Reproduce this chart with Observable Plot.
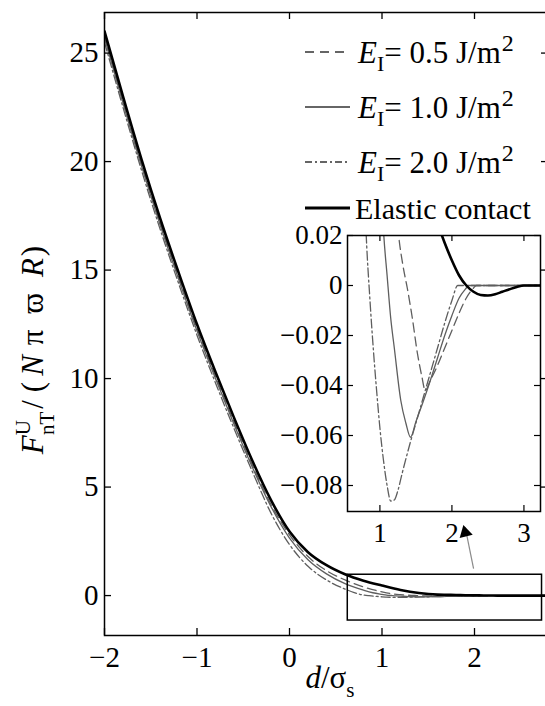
<!DOCTYPE html>
<html>
<head>
<meta charset="utf-8">
<script src="https://cdn.jsdelivr.net/npm/d3@7"></script>
<script src="https://cdn.jsdelivr.net/npm/@observablehq/plot@0.6"></script>
<style>
  html, body { margin: 0; padding: 0; background: #fff; }
  #wrap { position: relative; width: 545px; height: 706px; overflow: hidden; background: #fff; }
  #wrap svg { position: absolute; font-family: "Liberation Serif", "DejaVu Serif", serif; }
  #wrap svg text { font-family: "Liberation Serif", "DejaVu Serif", serif; }
</style>
</head>
<body>
<div id="wrap"></div>
<script>
// ---------------- data ----------------
const EL_X = [-2.0,-1.8,-1.6,-1.4,-1.2,-1.0,-0.8,-0.6,-0.4,-0.2,0.0,0.2,0.4,0.6,0.8,1.0,1.2,1.4,1.6,1.7,1.8,1.9,2.0,2.1,2.2,2.3,2.4,2.5,2.6,2.7,2.8,2.9,3.0,3.1,3.24];
const EL_Y = [26.0,23.0,20.1,17.4,14.9,12.5,10.3,8.2,6.2,4.4,2.95,2.0,1.4,0.98,0.68,0.46,0.26,0.12,0.045,0.034,0.025,0.017,0.010,0.004,0.0,-0.0025,-0.0038,-0.004,-0.0035,-0.0025,-0.0015,-0.0006,0,0,0];

const E05_X = [-2.0,-1.8,-1.6,-1.4,-1.2,-1.0,-0.8,-0.6,-0.4,-0.2,0.0,0.2,0.4,0.6,0.8,1.0,1.1,1.2,1.26,1.32,1.38,1.45,1.52,1.58,1.63,1.7,1.8,1.9,2.0,2.1,2.2,2.3,2.34,2.5,2.7,3.0,3.24];
const E05_Y = [25.8,22.8,19.9,17.2,14.7,12.3,10.1,8.0,6.0,4.2,2.8,1.8,1.15,0.72,0.4,0.17,0.085,0.04,0.02,0.008,-0.001,-0.013,-0.027,-0.036,-0.042,-0.038,-0.032,-0.025,-0.018,-0.011,-0.005,-0.001,0,0,0,0,0];

const E10_X = [-2.0,-1.8,-1.6,-1.4,-1.2,-1.0,-0.8,-0.6,-0.4,-0.2,0.0,0.2,0.4,0.6,0.8,0.9,1.0,1.05,1.1,1.15,1.2,1.29,1.36,1.425,1.5,1.6,1.7,1.8,1.9,2.0,2.1,2.2,2.23,2.4,2.6,2.8,3.0,3.24];
const E10_Y = [25.7,22.7,19.8,17.1,14.6,12.2,10.0,7.9,5.9,4.1,2.65,1.65,1.0,0.55,0.25,0.13,0.055,0.022,0.004,-0.013,-0.025,-0.046,-0.055,-0.0607,-0.0545,-0.0465,-0.038,-0.029,-0.02,-0.012,-0.005,-0.001,0,0,0,0,0,0];

const E20_X = [-2.0,-1.8,-1.6,-1.4,-1.2,-1.0,-0.8,-0.6,-0.4,-0.2,0.0,0.2,0.4,0.6,0.7,0.76,0.81,0.86,0.91,0.96,1.0,1.05,1.1,1.15,1.2,1.25,1.31,1.42,1.5,1.6,1.7,1.8,1.9,2.0,2.08,2.2,2.4,2.6,2.8,3.0,3.24];
const E20_Y = [25.5,22.5,19.6,16.9,14.4,12.0,9.8,7.7,5.7,3.8,2.35,1.35,0.72,0.3,0.14,0.06,0.02,-0.005,-0.026,-0.044,-0.057,-0.07,-0.08,-0.0862,-0.0858,-0.082,-0.075,-0.063,-0.055,-0.045,-0.035,-0.025,-0.015,-0.006,0,0,0,0,0,0,0];

const MAIN_X_TICKS = [-2, -1, 0, 1, 2];
const MAIN_Y_TICKS = [0, 5, 10, 15, 20, 25];
const INSET_X_TICKS = [1, 2, 3];
const INSET_Y_TICKS = [0.02, 0, -0.02, -0.04, -0.06, -0.08];

const ZOOM_BOX = {x1: 0.63, x2: 2.73, y1: -1.15, y2: 0.96};
const ARROW = {x1: 1.99, y1: 1.24, x2: 1.90, y2: 3.13};

const LEGEND_VALUES = ["0.5", "1.0", "2.0"];
const LEGEND_ELASTIC = "Elastic contact";

// ---------------- helpers ----------------
const toRows = (xs, ys) => xs.map((x, i) => ({x, y: ys[i]}));
const elastic = toRows(EL_X, EL_Y);
const e05 = toRows(E05_X, E05_Y);
const e10 = toRows(E10_X, E10_Y);
const e20 = toRows(E20_X, E20_Y);

const FONT = "Liberation Serif, DejaVu Serif, serif";
const GRAY = "#5e5e5e";
const DASH = "9,5";
const DASHDOT = "9,3,2,3";
const minus = d => (d < 0 ? "\u2212" : "") + Math.abs(d);

// ---------------- main plot ----------------
const W = 545, H = 706;
const mM = {l: 104, r: -3, t: 12, b: 71};
const mxd = [-2, 2.8], myd = [-1.84, 26.87];
const pxX = (W - mM.l - mM.r) / (mxd[1] - mxd[0]);
const pxY = (H - mM.t - mM.b) / (myd[1] - myd[0]);
const TK = 7;

const main = Plot.plot({
  width: W, height: H,
  marginLeft: mM.l, marginRight: mM.r, marginTop: mM.t, marginBottom: mM.b,
  x: {domain: mxd},
  y: {domain: myd},
  style: {fontFamily: FONT, background: "white", overflow: "visible"},
  marks: [
    Plot.line(e20, {x: "x", y: "y", stroke: GRAY, strokeWidth: 1.3, strokeDasharray: DASHDOT, curve: "monotone-x", clip: true}),
    Plot.line(e05, {x: "x", y: "y", stroke: GRAY, strokeWidth: 1.3, strokeDasharray: DASH, curve: "monotone-x", clip: true}),
    Plot.line(e10, {x: "x", y: "y", stroke: GRAY, strokeWidth: 1.3, curve: "monotone-x", clip: true}),
    Plot.line(elastic, {x: "x", y: "y", stroke: "black", strokeWidth: 2.6, curve: "monotone-x", clip: true}),
    Plot.rect([ZOOM_BOX], {x1: "x1", x2: "x2", y1: "y1", y2: "y2", fill: "none", stroke: "black", strokeWidth: 1.5}),
    Plot.link([ARROW], {x1: "x1", y1: "y1", x2: "x2", y2: "y2", stroke: "#8a8a8a", strokeWidth: 1.2}),
    Plot.dot([ARROW], {x: "x2", y: "y2", symbol: "triangle", r: 5, fill: "black", stroke: "none", rotate: -14, dy: 5}),
    Plot.frame({stroke: "black", strokeWidth: 1.5}),
    Plot.ruleX(MAIN_X_TICKS, {x: d => d, y1: myd[0], y2: myd[0] + TK / pxY, stroke: "black", strokeWidth: 1.3}),
    Plot.ruleX(MAIN_X_TICKS, {x: d => d, y1: myd[1] - TK / pxY, y2: myd[1], stroke: "black", strokeWidth: 1.3}),
    Plot.ruleY(MAIN_Y_TICKS, {y: d => d, x1: mxd[0], x2: mxd[0] + TK / pxX, stroke: "black", strokeWidth: 1.3}),
    Plot.ruleY(MAIN_Y_TICKS, {y: d => d, x1: mxd[1] - TK / pxX, x2: mxd[1], stroke: "black", strokeWidth: 1.3}),
    Plot.axisX(MAIN_X_TICKS, {tickSize: 0, tickPadding: 11, fontSize: 29, tickFormat: minus, label: null, fill: "black"}),
    Plot.axisY(MAIN_Y_TICKS, {tickSize: 0, tickPadding: 6, fontSize: 29, tickFormat: minus, label: null, fill: "black"})
  ]
});
main.style.left = "0px";
main.style.top = "0px";

const svg = d3.select(main);

// legend
const lg = svg.append("g").attr("font-family", FONT).attr("font-size", 31)
  .attr("fill", "black").attr("text-anchor", "start");
const rowsY = [52, 107, 162, 208];
const styles = [
  {dash: "9,6", w: 1.4, c: "#333"},
  {dash: null, w: 1.4, c: "#333"},
  {dash: "7,3,2,3", w: 1.4, c: "#333"},
  {dash: null, w: 3, c: "black"}
];
styles.forEach((s, i) => {
  const y = rowsY[i];
  const ln = lg.append("line").attr("x1", 305).attr("x2", 350).attr("y1", y).attr("y2", y)
    .attr("stroke", s.c).attr("stroke-width", s.w);
  if (s.dash) ln.attr("stroke-dasharray", s.dash);
  const t = lg.append("text").attr("x", i < 3 ? 358 : 355).attr("y", y + 11).attr("text-anchor", "start");
  if (i < 3) {
    t.append("tspan").attr("font-style", "italic").text("E");
    t.append("tspan").attr("font-size", 22).attr("dy", 8).text("I");
    t.append("tspan").attr("dy", -8).attr("dx", 0).text("= " + LEGEND_VALUES[i] + " J/m");
    t.append("tspan").attr("font-size", 24).attr("dy", -12).attr("dx", 1).text("2");
  } else {
    t.attr("font-size", 30).text(LEGEND_ELASTIC);
  }
});

// y label
const yl = svg.append("text").attr("font-family", FONT).attr("font-size", 31).attr("fill", "black")
  .attr("text-anchor", "middle").attr("transform", "translate(43,350) rotate(-90)");
yl.append("tspan").attr("font-style", "italic").text("F");
yl.append("tspan").attr("font-size", 21).attr("dy", -13).text("U");
yl.append("tspan").attr("font-size", 21).attr("dx", -15).attr("dy", 24).text("nT");
yl.append("tspan").attr("dy", -11).attr("dx", 3).text("/");
yl.append("tspan").attr("dx", 8).text("(");
yl.append("tspan").attr("dx", 6).attr("font-style", "italic").text("N");
yl.append("tspan").attr("dx", 10).text("\u03c0");
yl.append("tspan").attr("dx", 16).text("\u03d6");
yl.append("tspan").attr("dx", 16).attr("font-style", "italic").text("R");
yl.append("tspan").attr("dx", 2).text(")");

// x label
const xl = svg.append("text").attr("font-family", FONT).attr("font-size", 31).attr("fill", "black")
  .attr("text-anchor", "middle").attr("x", 330).attr("y", 688);
xl.append("tspan").attr("font-style", "italic").text("d");
xl.append("tspan").text("/\u03c3");
xl.append("tspan").attr("font-size", 21).attr("dy", 9).text("s");

// ---------------- inset ----------------
const IW = 275, IH = 330, IL = 270, IT = 220;
const iM = {l: 77, r: 5, t: 15, b: 39};
const ixd = [0.55, 3.23], iyd = [-0.0904, 0.02];
const ipxX = (IW - iM.l - iM.r) / (ixd[1] - ixd[0]);
const ipxY = (IH - iM.t - iM.b) / (iyd[1] - iyd[0]);
const ITK = 6;
const ifmt = d => d === 0 ? "0" : (d < 0 ? "\u2212" : "") + Math.abs(d).toFixed(2);

const inset = Plot.plot({
  width: IW, height: IH,
  marginLeft: iM.l, marginRight: iM.r, marginTop: iM.t, marginBottom: iM.b,
  x: {domain: ixd},
  y: {domain: iyd},
  style: {fontFamily: FONT, background: "transparent", overflow: "visible"},
  marks: [
    Plot.frame({fill: "white", stroke: "none"}),
    Plot.line(e20, {x: "x", y: "y", stroke: GRAY, strokeWidth: 1.3, strokeDasharray: DASHDOT, curve: "monotone-x", clip: true}),
    Plot.line(e05, {x: "x", y: "y", stroke: GRAY, strokeWidth: 1.3, strokeDasharray: DASH, curve: "monotone-x", clip: true}),
    Plot.line(e10, {x: "x", y: "y", stroke: GRAY, strokeWidth: 1.3, curve: "monotone-x", clip: true}),
    Plot.line(elastic, {x: "x", y: "y", stroke: "black", strokeWidth: 2.6, curve: "monotone-x", clip: true}),
    Plot.frame({stroke: "black", strokeWidth: 1.5}),
    Plot.ruleX(INSET_X_TICKS, {x: d => d, y1: iyd[0], y2: iyd[0] + ITK / ipxY, stroke: "black", strokeWidth: 1.2}),
    Plot.ruleX(INSET_X_TICKS, {x: d => d, y1: iyd[1] - ITK / ipxY, y2: iyd[1], stroke: "black", strokeWidth: 1.2}),
    Plot.ruleY(INSET_Y_TICKS, {y: d => d, x1: ixd[0], x2: ixd[0] + ITK / ipxX, stroke: "black", strokeWidth: 1.2}),
    Plot.ruleY(INSET_Y_TICKS, {y: d => d, x1: ixd[1] - ITK / ipxX, x2: ixd[1], stroke: "black", strokeWidth: 1.2}),
    Plot.axisX(INSET_X_TICKS, {tickSize: 0, tickPadding: 11, fontSize: 27, label: null, fill: "black"}),
    Plot.axisY(INSET_Y_TICKS, {tickSize: 0, tickPadding: 5, fontSize: 27, tickFormat: ifmt, label: null, fill: "black"})
  ]
});
inset.style.left = IL + "px";
inset.style.top = IT + "px";

const wrap = document.getElementById("wrap");
wrap.appendChild(main);
wrap.appendChild(inset);
</script>
</body>
</html>
